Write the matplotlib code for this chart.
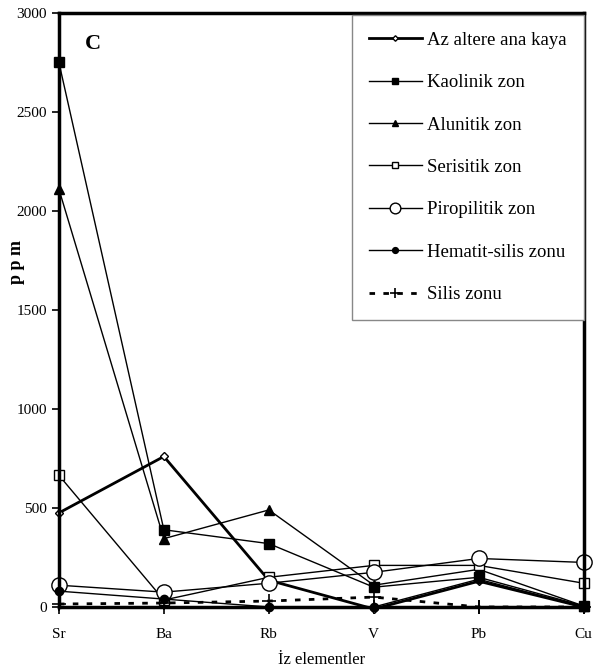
import matplotlib
matplotlib.use("Agg")
import matplotlib.pyplot as plt

categories = ["Sr", "Ba", "Rb", "V", "Pb", "Cu"]
az_altere = [475, 760, 135, -10, 130, 0]
kaolinik = [2750, 390, 320, 100, 150, 5]
alunitik = [2110, 345, 490, 110, 190, 5]
serisitik = [665, 35, 150, 210, 210, 120]
piropilitik = [110, 75, 120, 175, 245, 225]
hematit = [80, 40, 0, 0, 140, 0]
silis = [15, 20, 30, 50, 0, 0]

plt.rcParams['font.family'] = ['Liberation Serif', 'DejaVu Serif']

fig = plt.figure(figsize=(5.95, 6.69), dpi=100)
ax = fig.add_axes([0.099, 0.0927, 0.882, 0.888])
x = list(range(len(categories)))

kw = dict(color='black', clip_on=False)
ax.plot(x, az_altere, marker='D', ms=4, mfc='white', mec='black', lw=2.0, label='Az altere ana kaya', **kw)
ax.plot(x, kaolinik, marker='s', ms=7, mfc='black', lw=1.0, label='Kaolinik zon', **kw)
ax.plot(x, alunitik, marker='^', ms=7, mfc='black', lw=1.0, label='Alunitik zon', **kw)
ax.plot(x, serisitik, marker='s', ms=7, mfc='white', lw=1.0, label='Serisitik zon', **kw)
ax.plot(x, piropilitik, marker='o', ms=11, mfc='white', lw=1.0, label='Piropilitik zon', **kw)
ax.plot(x, hematit, marker='o', ms=6, mfc='black', lw=1.0, label='Hematit-silis zonu', **kw)
ax.plot(x, silis, marker='+', ms=10, mew=1.2, lw=2.0, ls=(0, (2, 3)), label='Silis zonu', **kw)

ax.set_xlim(0, 5)
ax.set_ylim(0, 3000)
ax.set_yticks([0, 500, 1000, 1500, 2000, 2500, 3000])
ax.set_xticks(x)
ax.set_xticklabels(categories)
for s in ax.spines.values():
    s.set_linewidth(2.5)
ax.tick_params(axis='y', direction='out', length=5, width=1.2, labelsize=11)
ax.tick_params(axis='x', direction='inout', length=10, width=1.2, labelsize=11, pad=10)

fig.text(0.028, 0.608, 'p p m', rotation=90, fontsize=13, fontweight='bold', ha='center', va='center')
ax.set_xlabel('İz elementler', fontsize=12, labelpad=8)
ax.text(0.05, 0.965, 'C', transform=ax.transAxes, fontsize=16, fontweight='bold', va='top')

leg = ax.legend(loc='upper right', bbox_to_anchor=(1.0, 0.997), borderaxespad=0.0, fontsize=13.5,
                handlelength=2.8, labelspacing=1.35, borderpad=0.9, fancybox=False, framealpha=1,
                edgecolor='#888888', markerscale=0.7, handletextpad=0.3)
leg.get_frame().set_linewidth(1.0)

fig.savefig('out.png', dpi=100)
